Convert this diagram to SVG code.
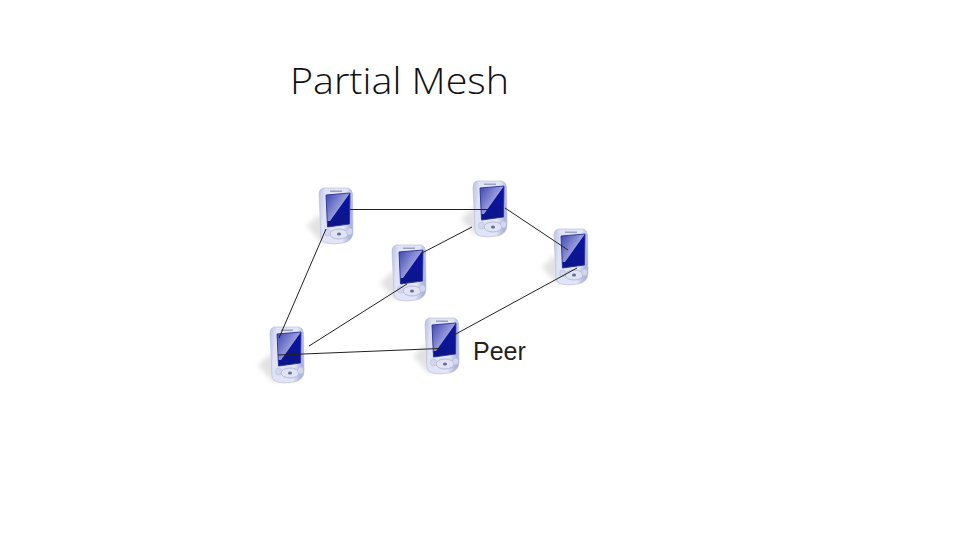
<svg xmlns="http://www.w3.org/2000/svg" width="960" height="540" viewBox="0 0 960 540">
<style>
.title{font-family:"Open Sans","Noto Sans",sans-serif;font-weight:300;font-size:37px;fill:#111}
.label{font-family:"Liberation Sans",Arial,sans-serif;font-size:25px;fill:#222}
.link{stroke:#222;stroke-width:1;fill:none}
</style>
<defs>
<filter id="soft" x="-30%" y="-30%" width="160%" height="160%"><feGaussianBlur stdDeviation="2.500"/></filter>
<linearGradient id="body" x1="0" y1="0" x2="1" y2="0.15"><stop offset="0" stop-color="#b9c0e2"/><stop offset="0.2" stop-color="#dfe3f5"/><stop offset="0.8" stop-color="#e3e6f6"/><stop offset="1" stop-color="#aeb5dc"/></linearGradient>
<linearGradient id="lite" x1="0" y1="0" x2="1" y2="0.9"><stop offset="0" stop-color="#3d44b0"/><stop offset="0.6" stop-color="#a4aae2"/><stop offset="1" stop-color="#dfe2f8"/></linearGradient>
<linearGradient id="dark" x1="0" y1="0" x2="0" y2="1"><stop offset="0" stop-color="#0a14a8"/><stop offset="1" stop-color="#0c1688"/></linearGradient>
<symbol id="pda" width="50" height="60" viewBox="-14 0 50 60" overflow="visible">
<path d="M1 26L-12 38L3 55L12 52Z" fill="#cfcfcf" opacity="0.6" filter="url(#soft)"/>
<path d="M4 0H29Q33 1 33.500 6L34 44Q34 53 24 55Q14 57 7 55Q3 54 2 50L0 6Q0 1 4 0Z" fill="url(#body)" stroke="#b4bad9" stroke-width="0.6"/>
<rect x="11" y="2.500" width="12" height="1.500" fill="#9aa0c4"/>
<path d="M7 7L31 5L30.500 36L8.500 39Z" fill="url(#lite)"/>
<path d="M31 5L30.500 36L8.500 39L8.300 33L11 33Z" fill="url(#dark)"/>
<path d="M7 7L31 5L30.500 36L8.500 39Z" fill="none" stroke="#2a3096" stroke-width="0.9"/>
<ellipse cx="20" cy="46" rx="9" ry="5" fill="#e0e3f4" stroke="#a9afd2" stroke-width="0.8"/>
<ellipse cx="20" cy="46" rx="2" ry="1.500" fill="#666b90"/>
<ellipse cx="8.500" cy="44.500" rx="3" ry="3.500" fill="#d3d7ed" stroke="#aeb4d6" stroke-width="0.5"/>
<ellipse cx="30.500" cy="43.500" rx="3" ry="3.500" fill="#d3d7ed" stroke="#aeb4d6" stroke-width="0.5"/>
</symbol>
</defs>
<rect width="960" height="540" fill="#fff"/>
<text class="title" x="290" y="94" textLength="219" lengthAdjust="spacingAndGlyphs">Partial Mesh</text>
<g id="node-1"><use href="#pda" x="305" y="188" width="50" height="60"/></g>
<g id="node-2"><use href="#pda" x="459" y="181" width="50" height="60"/></g>
<g id="node-3"><use href="#pda" x="378" y="245" width="50" height="60"/></g>
<g id="node-4"><use href="#pda" x="540" y="229" width="50" height="60"/></g>
<g id="node-5"><use href="#pda" x="411" y="318" width="50" height="60"/></g>
<g id="node-6"><use href="#pda" x="256" y="327" width="50" height="60"/></g>
<g id="connectors">
<path class="link" d="M350 209.500H490"/>
<path class="link" d="M326 229L279 338"/>
<path class="link" d="M505 208L568 250"/>
<path class="link" d="M472 227L422 253"/>
<path class="link" d="M407 284L309 346"/>
<path class="link" d="M278 355L440 348.500"/>
<path class="link" d="M454 335L577 268"/>
</g>
<text class="label" x="473" y="360">Peer</text>
</svg>
